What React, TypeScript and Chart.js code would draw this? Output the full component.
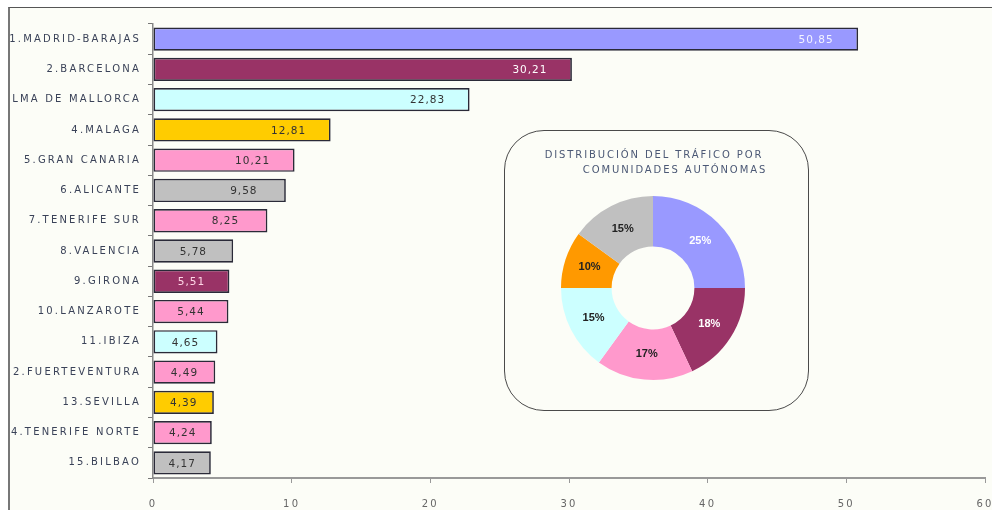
import React, { useEffect, useRef } from 'react';
import { Chart, registerables } from 'chart.js';

Chart.register(...registerables);

// ---- Data ----
const airports = [
  '1.MADRID-BARAJAS',
  '2.BARCELONA',
  '3.PALMA DE MALLORCA',
  '4.MALAGA',
  '5.GRAN CANARIA',
  '6.ALICANTE',
  '7.TENERIFE SUR',
  '8.VALENCIA',
  '9.GIRONA',
  '10.LANZAROTE',
  '11.IBIZA',
  '12.FUERTEVENTURA',
  '13.SEVILLA',
  '14.TENERIFE NORTE',
  '15.BILBAO',
];
const traffic = [50.85, 30.21, 22.83, 12.81, 10.21, 9.58, 8.25, 5.78, 5.51, 5.44, 4.65, 4.49, 4.39, 4.24, 4.17];
const xTickValues = [0, 10, 20, 30, 40, 50, 60];

const regions = ['Madrid', 'Cataluña', 'Canarias', 'Baleares', 'Andalucía', 'Resto'];
const regionShares = [25, 18, 17, 15, 10, 15];

// ---- Styles ----
const LAVENDER = '#9999ff';
const MAROON = '#993366';
const CYAN = '#ccffff';
const GOLD = '#ffcc00';
const PINK = '#ff99cc';
const GRAY = '#c0c0c0';
const ORANGE = '#ff9900';

const barColors = [LAVENDER, MAROON, CYAN, GOLD, PINK, GRAY, PINK, GRAY, MAROON, PINK, CYAN, PINK, GOLD, PINK, GRAY];
const barLabelColors = ['#f4f4ff', '#ffffff', '#333', '#333', '#333', '#333', '#333', '#333', '#ffd6e6', '#333', '#333', '#333', '#333', '#333', '#333'];
const regionColors = [LAVENDER, MAROON, PINK, CYAN, ORANGE, GRAY];
const regionLabelColors = ['#ffffff', '#ffffff', '#222', '#222', '#222', '#222'];

const FONT = '"DejaVu Sans", Verdana, sans-serif';
const BG = '#fcfdf7';

const spacingPlugin = {
  id: 'letterSpacing',
  beforeLayout(chart: any) {
    chart.ctx.letterSpacing = '2.2px';
  },
  beforeDraw(chart: any) {
    chart.ctx.letterSpacing = '2.2px';
  },
};

const barValuePlugin = {
  id: 'barValues',
  afterDatasetsDraw(chart: any) {
    const ctx = chart.ctx;
    const meta = chart.getDatasetMeta(0);
    ctx.save();
    ctx.letterSpacing = '1px';
    ctx.font = `10.5px ${FONT}`;
    ctx.textAlign = 'center';
    ctx.textBaseline = 'middle';
    meta.data.forEach((el: any, i: number) => {
      const end = el.x;
      const base = el.base;
      const cx = Math.max((end + base) / 2, end - 42);
      ctx.fillStyle = barLabelColors[i];
      ctx.fillText(traffic[i].toFixed(2).replace('.', ','), cx, el.y + 1);
    });
    ctx.restore();
  },
};

const donutLabelPlugin = {
  id: 'donutLabels',
  afterDatasetsDraw(chart: any) {
    const ctx = chart.ctx;
    const meta = chart.getDatasetMeta(0);
    ctx.save();
    ctx.font = `bold 11px "Liberation Sans", Arial, sans-serif`;
    ctx.textAlign = 'center';
    ctx.textBaseline = 'middle';
    meta.data.forEach((el: any, i: number) => {
      const p = el.tooltipPosition();
      ctx.fillStyle = regionLabelColors[i];
      ctx.fillText(regionShares[i] + '%', p.x, p.y);
    });
    ctx.restore();
  },
};

export default function App() {
  const barRef = useRef<HTMLCanvasElement>(null);
  const donutRef = useRef<HTMLCanvasElement>(null);

  useEffect(() => {
    const barChart = new Chart(barRef.current as HTMLCanvasElement, {
      type: 'bar',
      data: {
        labels: airports,
        datasets: [
          {
            data: traffic,
            backgroundColor: barColors,
            borderColor: '#2a2a38',
            borderWidth: 1.7,
            borderSkipped: false,
            categoryPercentage: 0.77,
            barPercentage: 1,
          },
        ],
      },
      options: {
        indexAxis: 'y',
        responsive: false,
        maintainAspectRatio: false,
        animation: false,
        layout: { padding: { top: 16, right: 7, left: 0, bottom: 0 } },
        plugins: { legend: { display: false }, tooltip: { enabled: false } },
        scales: {
          x: {
            type: 'linear',
            min: 0,
            max: 60,
            afterBuildTicks: (s: any) => {
              s.ticks = xTickValues.map((v) => ({ value: v }));
            },
            ticks: { color: '#666', font: { family: FONT, size: 10 }, padding: 15, maxRotation: 0 },
            grid: { drawOnChartArea: false, tickLength: 5, color: '#999', lineWidth: 1 },
            border: { color: '#999', width: 2 },
            afterFit: (s: any) => {
              s.height = 32;
              s.paddingLeft = 0;
              s.paddingRight = 0;
            },
          },
          y: {
            type: 'category',
            ticks: { color: '#3a4258', font: { family: FONT, size: 10 }, padding: 7, autoSkip: false },
            grid: { drawOnChartArea: false, tickLength: 5, offset: true, color: '#777' },
            border: { color: '#888', width: 1.5 },
            afterFit: (s: any) => {
              s.width = 143;
              s.paddingTop = 0;
              s.paddingBottom = 0;
            },
          },
        },
      } as any,
      plugins: [spacingPlugin, barValuePlugin],
    });

    const donutChart = new Chart(donutRef.current as HTMLCanvasElement, {
      type: 'doughnut',
      data: {
        labels: regions,
        datasets: [
          {
            data: regionShares,
            backgroundColor: regionColors,
            borderWidth: 0,
            hoverOffset: 0,
          },
        ],
      },
      options: {
        responsive: false,
        maintainAspectRatio: false,
        animation: false,
        cutout: '45%',
        layout: { padding: 3 },
        plugins: { legend: { display: false }, tooltip: { enabled: false } },
      } as any,
      plugins: [donutLabelPlugin],
    });

    return () => {
      barChart.destroy();
      donutChart.destroy();
    };
  }, []);

  const titleStyle: React.CSSProperties = {
    position: 'absolute',
    fontFamily: FONT,
    fontSize: 10,
    letterSpacing: '1.9px',
    color: '#4b5875',
    lineHeight: '12px',
    textAlign: 'center',
    whiteSpace: 'nowrap',
  };

  return (
    <div style={{ position: 'absolute', left: 0, top: 0, width: 992, height: 510, overflow: 'hidden', background: '#ffffff' }}>
      <div
        style={{
          position: 'absolute',
          left: 8,
          top: 7,
          width: 990,
          height: 510,
          borderTop: '1px solid #555',
          borderLeft: '2px solid #777',
          background: BG,
          overflow: 'hidden',
        }}
      >
        <canvas ref={barRef} width={982} height={502} style={{ position: 'absolute', left: 0, top: 0, width: 982, height: 502 }} />
      </div>
      <div
        style={{
          position: 'absolute',
          left: 504,
          top: 130,
          width: 303,
          height: 279,
          border: '1.5px solid #4a4a4a',
          borderRadius: 40,
          background: BG,
        }}
      />
      <div style={{ ...titleStyle, left: 504, width: 300, top: 149 }}>DISTRIBUCIÓN DEL TRÁFICO POR</div>
      <div style={{ ...titleStyle, left: 544, width: 262, top: 164 }}>COMUNIDADES AUTÓNOMAS</div>
      <canvas
        ref={donutRef}
        width={190}
        height={190}
        style={{ position: 'absolute', left: 558, top: 193, width: 190, height: 190 }}
      />
    </div>
  );
}
